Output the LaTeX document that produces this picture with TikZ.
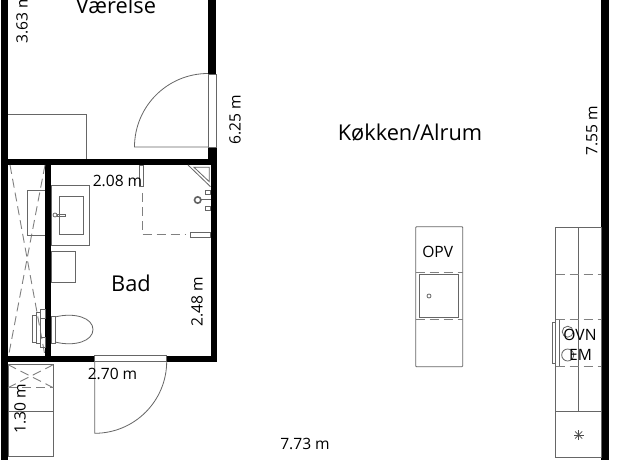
\documentclass[tikz,border=0pt]{standalone}
\usepackage{fontspec}
\setmainfont{Open Sans}
\tikzset{
  thin line/.style={draw=black!60,line width=0.8pt},
  dash line/.style={draw=black!50,line width=0.9pt,dash pattern=on 9pt off 5pt},
  wall/.style={fill=black,draw=none},
  big label/.style={font=\fontsize{21.8}{26}\selectfont,text=black,inner sep=0pt},
  dim label/.style={font=\fontsize{15.6}{18}\selectfont,text=black,inner sep=0pt},
}
\begin{document}
\begin{tikzpicture}[x=1pt,y=-1pt]
\useasboundingbox (0,0) rectangle (625,460);
\clip (0,0) rectangle (625,460);
\fill[white] (0,0) rectangle (625,460);
% walls
\fill[wall] (1,0) rectangle (8,460);
\fill[wall] (208,0) rectangle (216,74);
\fill[wall] (208,147) rectangle (216.5,160);
\fill[wall] (1,159.5) rectangle (216.5,165);
\fill[wall] (45,165) rectangle (51,357);
\fill[wall] (210.5,165) rectangle (216.5,361);
\fill[wall] (1,356) rectangle (94.7,361.5);
\fill[wall] (166.7,356) rectangle (216.5,361.5);
\fill[wall] (601,0) rectangle (609,460);
% upper door
\draw[thin line] (208,74) rectangle (216,147);
\draw[thin line] (208,147) -- (134.5,147) arc[start angle=180,end angle=270,radius=73.5];
% closet
\draw[thin line] (8,114.5) -- (86.5,114.5) -- (86.5,159.5);
% shower-side closet
\draw[dash line] (10,165) -- (45,356);
\draw[dash line] (45,165) -- (8.5,356);
\draw[thin line] (45,190) -- (27.7,190) -- (27.7,235.7) -- (45,235.7);
% sink
\draw[thin line] (51,185) rectangle (89,245);
\draw[thin line] (59.7,196) rectangle (83.3,234.3);
\draw[thin line] (57,214.5) rectangle (65,216);
\draw[thin line,fill=white] (55,215) circle[radius=2];
\draw[thin line] (51,251) rectangle (75.7,282);
% toilet
\draw[thin line] (51,316.7) rectangle (55,343);
\draw[thin line] (55,317) .. controls (75,312) and (93,318) .. (93,329.5) .. controls (93,341) and (75,347) .. (55,342);
\draw[thin line] (32.3,315) rectangle (36,342);
\draw[thin line] (36,312.7) rectangle (40.7,343);
\draw[thin line] (40.7,309) rectangle (45,318);
\draw[thin line] (40.7,337) rectangle (45,347);
% shower
\draw[thin line] (188,165) -- (210.5,186.7);
\draw[thin line] (194,167.3) -- (209.3,167.3) -- (209.3,181.7) -- cycle;
\draw[thin line] (139.5,165) rectangle (143,186);
\draw[dash line] (142,193) -- (142,234.3) -- (185,234.3);
\draw[thin line] (190.7,232.7) rectangle (210.5,237);
\draw[thin line,line width=1pt] (200,200) -- (210.5,200);
\draw[draw=black!62,line width=1.6pt] (197.7,200) circle[radius=3.2];
\draw[thin line] (205,190) rectangle (210.5,194.7);
\draw[thin line] (205,206) rectangle (210.5,210.3);
% lower door
\draw[thin line] (94.7,355.7) rectangle (166.7,361.7);
\draw[thin line] (94.7,361.7) -- (94.7,433.3) arc[start angle=90,end angle=0,radius=72];
% lower-left cabinet
\draw[thin line] (8,364.7) rectangle (53.3,456.7);
\draw[thin line] (8,411) -- (53.3,411);
\draw[dash line] (8,387.7) -- (53.3,387.7);
\draw[dash line] (8,364.7) -- (53.3,387.7);
\draw[dash line] (53.3,364.7) -- (8,387.7);
% island
\draw[thin line,rounded corners=0.8pt] (415.7,226.7) rectangle (462.7,366.7);
\draw[dash line] (415.7,272.3) -- (462.7,272.3);
\draw[dash line] (415.7,319) -- (462.7,319);
\draw[thin line] (419.3,274.3) rectangle (458.3,317.7);
\draw[thin line] (429,296) circle[radius=2];
% kitchen counter
\draw[thin line] (555.7,227.3) rectangle (601,457.7);
\draw[thin line] (578.7,227.3) -- (578.7,411);
\draw[thin line] (555.7,411) -- (601,411);
\draw[dash line] (555.7,274) -- (601,274);
\draw[dash line] (555.7,319.7) -- (601,319.7);
\draw[dash line] (555.7,366) -- (601,366);
\draw[thin line] (552.3,322) rectangle (555.7,363);
\draw[thin line] (559.7,320) -- (559.7,366);
\draw[thin line] (567.7,331.7) circle[radius=5.5];
\draw[thin line] (567.7,355) circle[radius=6];
\foreach \a in {0,45,90,135}{
  \draw[draw=black!70,line width=0.7pt] (578.7,435) ++(\a:5) -- ++(\a+180:10);
}
% labels
\node[big label] (vaerelse) at (116,5) {Værelse};
\node[big label] (kokken) at (410,132.5) {Køkken/Alrum};
\node[big label] (bad) at (131,283) {Bad};
\node[dim label] (opv) at (437.7,251.5) {OPV};
\node[dim label] (ovn) at (580,335) {OVN};
\node[dim label] (em) at (580.5,354.5) {EM};
\node[dim label] (d208) at (117.5,181) {2.08 m};
\node[dim label] (d270) at (112.5,374) {2.70 m};
\node[dim label] (d773) at (305,444) {7.73 m};
\node[dim label,rotate=90] (d363) at (22,18.5) {3.63 m};
\node[dim label,rotate=90] (d625) at (235,119.5) {6.25 m};
\node[dim label,rotate=90] (d755) at (592,131) {7.55 m};
\node[dim label,rotate=90] (d248) at (197,302) {2.48 m};
\node[dim label,rotate=90] (d130) at (20,409) {1.30 m};
\end{tikzpicture}
\end{document}
